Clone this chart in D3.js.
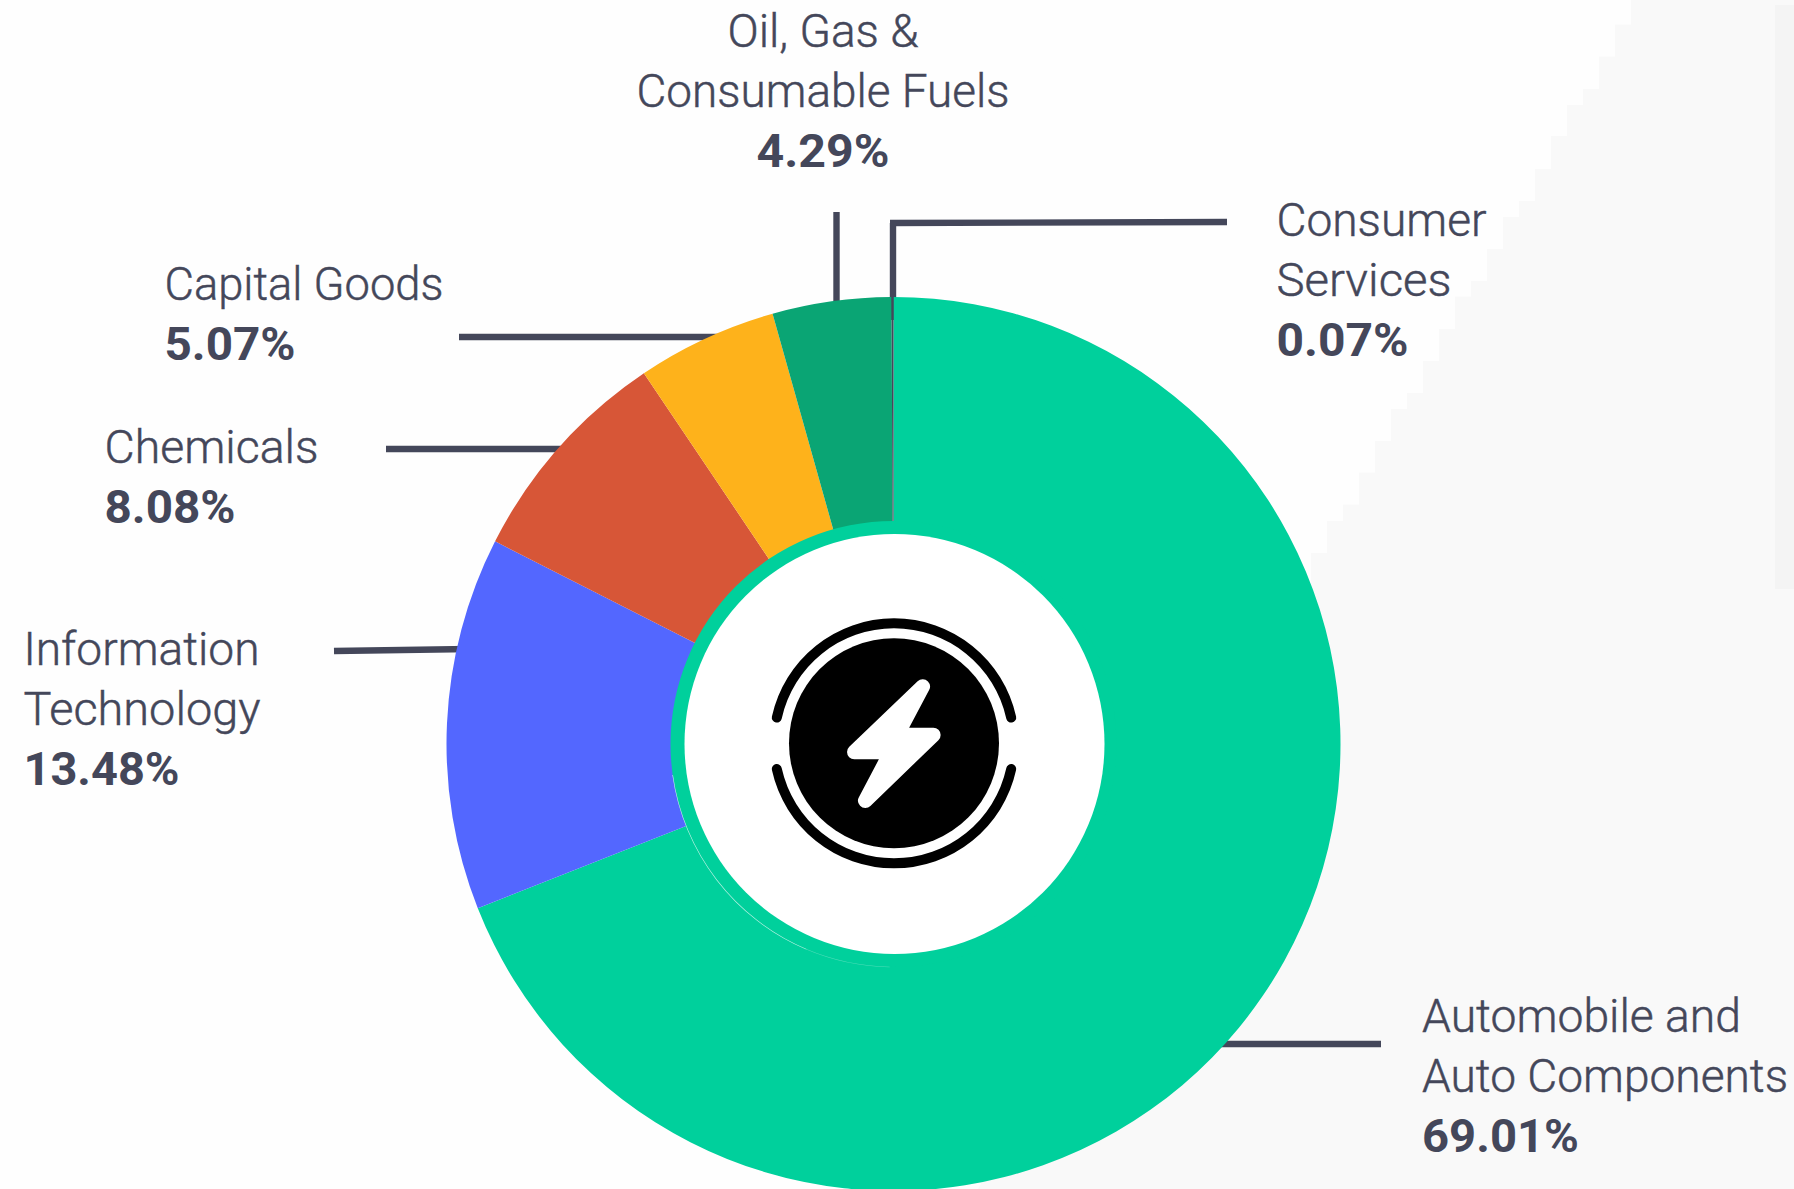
<!DOCTYPE html>
<html>
<head>
<meta charset="utf-8">
<script src="https://cdnjs.cloudflare.com/ajax/libs/d3/7.8.5/d3.min.js"></script>
<style>
html,body{margin:0;padding:0;background:#fefefe;overflow:hidden}
svg{display:block}
text{font-family:Roboto,"Noto Sans",sans-serif;fill:#44475a}
</style>
</head>
<body>
<svg id="chart" width="1794" height="1189"></svg>
<script>
// ---- data ----
const categories = ["Automobile and Auto Components","Information Technology","Chemicals","Capital Goods","Oil, Gas & Consumable Fuels","Consumer Services"];
const shareValues = [69.01,13.48,8.08,5.07,4.29,0.07];
const sliceColors = ["#00d09c","#5367ff","#d75637","#feb21b","#0aa574","#44475a"];
const nameLines = [["Automobile and","Auto Components"],["Information","Technology"],["Chemicals"],["Capital Goods"],["Oil, Gas &","Consumable Fuels"],["Consumer","Services"]];

// ---- layout (separate from the data) ----
const W=1794,H=1189,cx=893.5,cy=744,outerR=447,sliceInnerR=223,holeR=210;
const labelAnchor = [
 {x:1422,base:1032,anchor:"start",widths:[319,366,157]},
 {x:23.5,base:664.5,anchor:"start",widths:[236,237,156]},
 {x:104.5,base:462.5,anchor:"start",widths:[214,131]},
 {x:164.5,base:299.5,anchor:"start",widths:[279,131]},
 {x:823,base:46.5,anchor:"middle",widths:[191,373,133]},
 {x:1276.5,base:235.5,anchor:"start",widths:[210,175,132]}
];
const leaderPaths = [
 [[1381,1044],[1200,1044]],
 [[334,651],[470,649]],
 [[386,449],[600,449]],
 [[459,337],[740,337]],
 [[836.5,212],[836.5,320]],
 [[1227,222],[890,223]],
 [[893,223],[893,320]]
];
const shadeX = [1631,1615,1599,1583,1567,1551,1535,1519,1503,1487,1471,1455,1439,1423,1407,1391,1375,1359,1343,1327,1311];
const shadeY = [0,24.5,56.5,89,105,136,169,201,217,249,281,296.5,329,361,393,409,441,472.5,504.5,521,553];

const svg=d3.select("#chart");

// stepped pale background panel
const stepPts=shadeX.map((x,i)=>[x,shadeY[i]]);
const panel=d3.line().curve(d3.curveStepBefore);
const dStr=panel(stepPts)+`L1311,585L978,${H}L${W},${H}L${W},0Z`;
svg.append("path").attr("d",dStr).attr("fill","#f9f9f9");
svg.append("rect").attr("x",1775).attr("y",5).attr("width",19).attr("height",584).attr("fill","#f4f4f4");

// leader lines sit behind the ring
const leader=d3.line();
svg.append("g").selectAll("path").data(leaderPaths).join("path")
  .attr("d",leader).attr("fill","none").attr("stroke","#44475a").attr("stroke-width",6.4);

// donut
const pie=d3.pie().sort(null).value(d=>d);
const arc=d3.arc().innerRadius(sliceInnerR-2).outerRadius(outerR);
const g=svg.append("g").attr("transform",`translate(${cx},${cy})`);
g.selectAll("path.slice").data(pie(shareValues)).join("path").attr("class","slice")
  .attr("d",arc).attr("fill",(d,i)=>sliceColors[i]);
// inner green ring, its faint seam, and the white hole
g.append("path").attr("d",d3.arc().innerRadius(holeR-6).outerRadius(sliceInnerR)({startAngle:0,endAngle:2*Math.PI})).attr("fill",sliceColors[0]);
const deg=Math.PI/180;
const seam=d3.arc().innerRadius(sliceInnerR-.3).outerRadius(sliceInnerR+.3);
g.append("path").attr("d",seam({startAngle:181*deg,endAngle:203*deg})).attr("fill","#fff").attr("opacity",.3);
g.append("path").attr("d",seam({startAngle:203*deg,endAngle:262*deg})).attr("fill","#fff").attr("opacity",.75);
g.append("circle").attr("cx",1).attr("cy",0).attr("r",holeR).attr("fill","#fff");

// centre logo
const logo=svg.append("g").attr("transform",`translate(894,743.3)`);
logo.append("circle").attr("r",105).attr("fill","#000");
const ringArc=d3.arc().innerRadius(115).outerRadius(125).cornerRadius(5);
const a=80*deg;
logo.append("path").attr("d",ringArc({startAngle:-a,endAngle:a})).attr("fill","#000");
logo.append("path").attr("d",ringArc({startAngle:Math.PI-a,endAngle:Math.PI+a})).attr("fill","#000");
const boltPts=[[608,320],[531,465],[640,465],[436,662],[513,516],[403,516]];
logo.append("path")
  .attr("d",d3.line().x(d=>(d[0]-522)/3).y(d=>(d[1]-490)/3).curve(d3.curveLinearClosed)(boltPts))
  .attr("fill","#fff").attr("stroke","#fff").attr("stroke-width",14.6).attr("stroke-linejoin","round");

// labels
const lineH=60.2;
categories.forEach((c,i)=>{
  const L=labelAnchor[i];
  const lines=nameLines[i].concat(shareValues[i].toFixed(2)+"%");
  lines.forEach((t,j)=>{
    const bold=j===lines.length-1;
    svg.append("text").attr("x",L.x).attr("y",L.base+j*lineH)
      .attr("text-anchor",L.anchor)
      .attr("font-size",46).attr("font-weight",bold?700:300)
      .attr("stroke",bold?"none":"#44475a").attr("stroke-width",bold?0:.45)
      .attr("textLength",L.widths[j]).attr("lengthAdjust","spacingAndGlyphs")
      .text(t);
  });
});
</script>
</body>
</html>
